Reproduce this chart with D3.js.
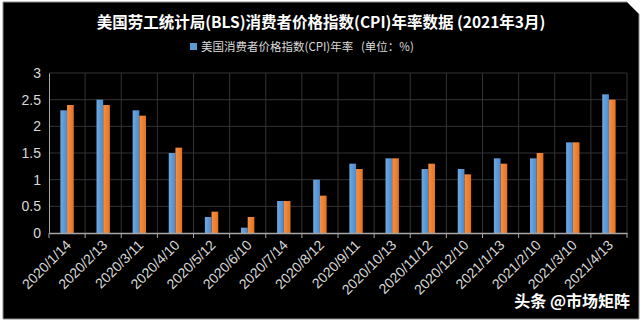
<!DOCTYPE html>
<html><head><meta charset="utf-8">
<script src="https://cdn.jsdelivr.net/npm/d3@7/dist/d3.min.js"></script>
<style>body{margin:0;background:#fff;}svg{display:block;}</style>
</head><body>
<svg id="c" width="640" height="322"></svg>
<script>
const categories = ["2020/1/14","2020/2/13","2020/3/11","2020/4/10","2020/5/12","2020/6/10","2020/7/14","2020/8/12","2020/9/11","2020/10/13","2020/11/12","2020/12/10","2021/1/13","2021/2/10","2021/3/10","2021/4/13"];
const seriesA = [2.3,2.5,2.3,1.5,0.3,0.1,0.6,1.0,1.3,1.4,1.2,1.2,1.4,1.4,1.7,2.6];
const seriesB = [2.4,2.4,2.2,1.6,0.4,0.3,0.6,0.7,1.2,1.4,1.3,1.1,1.3,1.5,1.7,2.5];
const yTicks = [0,0.5,1,1.5,2,2.5,3];
const title = "美国劳工统计局(BLS)消费者价格指数(CPI)年率数据 (2021年3月)";
const legendText = "美国消费者价格指数(CPI)年率\u00a0\u00a0\u00a0(单位：%)";
const watermark = "头条 @市场矩阵";

const svg = d3.select("#c");
const font = "'Noto Sans CJK SC','Microsoft YaHei',sans-serif";

// background
svg.append("path")
  .attr("d","M3,2 L627,2 L639,14 L639,319 L3,319 Z")
  .attr("fill","#000").attr("stroke","#8c8c8c").attr("stroke-width",1);

const defs = svg.append("defs");
function grad(id, c1, c2){
  const g = defs.append("linearGradient").attr("id",id).attr("x1","0").attr("x2","1").attr("y1","0").attr("y2","0");
  g.append("stop").attr("offset","0").attr("stop-color",c1);
  g.append("stop").attr("offset","1").attr("stop-color",c2);
}
grad("gb","#6fa9e0","#4a8bd0");
grad("go","#f39148","#e8721f");

const L=49, R=627, T=73, B=233;
const x = d3.scaleBand().domain(categories).range([L,R]).paddingInner(0).paddingOuter(0);
const y = d3.scaleLinear().domain([0,3]).range([B,T]);

// gridlines
svg.append("g").selectAll("line").data(yTicks.slice(1)).join("line")
  .attr("x1",L).attr("x2",R).attr("y1",d=>y(d)).attr("y2",d=>y(d))
  .attr("stroke","#333").attr("stroke-width",1);
svg.append("g").selectAll("line").data(d3.range(1,categories.length+1)).join("line")
  .attr("x1",i=>L+i*x.bandwidth()).attr("x2",i=>L+i*x.bandwidth())
  .attr("y1",T).attr("y2",B).attr("stroke","#333").attr("stroke-width",1);

// bars
const bw = x.bandwidth()*0.185;
const bars = svg.append("g");
categories.forEach((c,i)=>{
  const cx = x(c)+x.bandwidth()/2;
  bars.append("rect").attr("x",cx-bw).attr("width",bw).attr("y",y(seriesA[i])).attr("height",B-y(seriesA[i])).attr("fill","url(#gb)");
  bars.append("rect").attr("x",cx).attr("width",bw).attr("y",y(seriesB[i])).attr("height",B-y(seriesB[i])).attr("fill","url(#go)");
});

// y axis
const ya = svg.append("g").attr("transform",`translate(${L},0)`)
  .call(d3.axisLeft(y).tickValues(yTicks).tickSize(0).tickPadding(8).tickFormat(d=>String(d)));
ya.select(".domain").attr("stroke","#a6a6a6");
ya.selectAll("text").attr("fill","#d9d9d9").style("font-family","'Liberation Sans',Arial,sans-serif").style("font-size","14px");

// x axis
const xa = svg.append("g").attr("transform",`translate(0,${B})`)
  .call(d3.axisBottom(x).tickSize(0).tickPadding(0));
xa.select(".domain").attr("stroke","#a6a6a6").attr("stroke-width",1.5);
xa.selectAll(".tick text").remove();
svg.append("g").selectAll("line").data(d3.range(categories.length+1)).join("line")
  .attr("x1",i=>L+i*x.bandwidth()).attr("x2",i=>L+i*x.bandwidth())
  .attr("y1",B).attr("y2",B+5).attr("stroke","#a6a6a6");
svg.append("g").selectAll("text").data(categories).join("text")
  .attr("transform",d=>`translate(${x(d)+x.bandwidth()/2+5},${B+13}) rotate(-45)`)
  .attr("text-anchor","end").attr("fill","#d9d9d9")
  .style("font-family","'Liberation Sans',Arial,sans-serif").style("font-size","14px")
  .text(d=>d);

// title
svg.append("text").attr("x",321).attr("y",28).attr("text-anchor","middle")
  .attr("fill","#fff").style("font-family",font).style("font-weight","bold").style("font-size","15.5px")
  .text(title);
// legend
svg.append("rect").attr("x",190).attr("y",43).attr("width",7).attr("height",7).attr("fill","#5b9bd5");
svg.append("text").attr("x",201).attr("y",51).attr("fill","#d9d9d9")
  .style("font-family",font).style("font-size","11.5px").text(legendText);
// watermark
svg.append("text").attr("x",630).attr("y",307).attr("text-anchor","end")
  .attr("fill","#fff").style("font-family",font).style("font-size","16px").style("font-weight","bold")
  .text(watermark);
</script>
</body></html>
